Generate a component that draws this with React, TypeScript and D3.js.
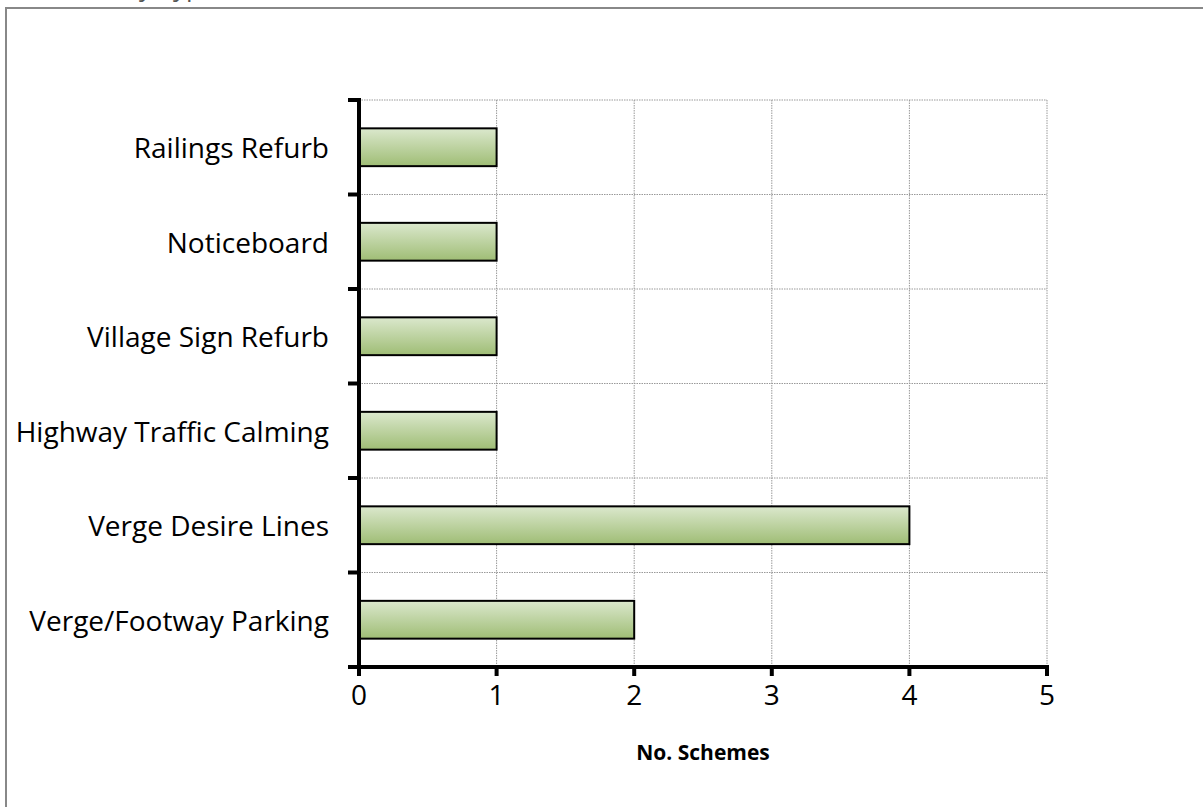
import * as d3 from "d3";

const categories = [
  "Railings Refurb",
  "Noticeboard",
  "Village Sign Refurb",
  "Highway Traffic Calming",
  "Verge Desire Lines",
  "Verge/Footway Parking",
];
const schemeCounts = [1, 1, 1, 1, 4, 2];
const xTicks = [0, 1, 2, 3, 4, 5];
const xTitle = "No. Schemes";

const W = 1203;
const H = 807;
const margin = { left: 359, right: 156, top: 100, bottom: 140 };
const font = "'Open Sans', 'Liberation Sans', sans-serif";

export default function App() {
  const x = d3.scaleLinear().domain([0, 5]).range([margin.left, W - margin.right]);
  const y = d3
    .scaleBand<string>()
    .domain(categories)
    .range([margin.top, H - margin.bottom])
    .paddingInner(0.6)
    .paddingOuter(0.3);
  const bounds = d3
    .range(categories.length + 1)
    .map((i) => margin.top + (i * (H - margin.bottom - margin.top)) / categories.length);
  const y0 = H - margin.bottom;

  return (
    <svg
      width={W}
      height={H}
      style={{ position: "absolute", left: 0, top: 0, background: "#fff" }}
    >
      <defs>
        <linearGradient id="barFill" x1="0" y1="0" x2="0" y2="1">
          <stop offset="0%" stopColor="#dbe8cd" />
          <stop offset="100%" stopColor="#9fbd75" />
        </linearGradient>
      </defs>
      <rect x={0} y={0} width={W} height={H} fill="#fff" />
      {/* chart title, cropped off above the frame */}
      <text x={8} y={-4} fontFamily={font} fontSize={26} fill="#555">
        Schemes by Type
      </text>
      <rect x={6} y={8} width={W + 10} height={H} fill="none" stroke="#888" strokeWidth={2} />

      {/* gridlines */}
      {bounds.slice(0, -1).map((b, i) => (
        <line key={"h" + i} x1={x(0)} x2={x(5)} y1={b} y2={b} stroke="#999" strokeDasharray="1.5,1" />
      ))}
      {xTicks.slice(1).map((t) => (
        <line key={"v" + t} x1={x(t)} x2={x(t)} y1={margin.top} y2={y0} stroke="#999" strokeDasharray="1.5,1" />
      ))}

      {/* bars */}
      {categories.map((c, i) => (
        <rect
          key={c}
          x={x(0)}
          y={y(c)}
          width={x(schemeCounts[i]) - x(0)}
          height={y.bandwidth()}
          fill="url(#barFill)"
          stroke="#000"
          strokeWidth={2}
        />
      ))}

      {/* axes */}
      <line x1={x(0)} x2={x(0)} y1={margin.top - 2} y2={y0 + 2} stroke="#000" strokeWidth={4} />
      {bounds.map((b, i) => (
        <line key={"yt" + i} x1={x(0) - 11} x2={x(0)} y1={b} y2={b} stroke="#000" strokeWidth={4} />
      ))}
      <line x1={x(0) - 2} x2={x(5) + 2} y1={y0} y2={y0} stroke="#000" strokeWidth={4} />
      {xTicks.map((t) => (
        <line key={"xt" + t} x1={x(t)} x2={x(t)} y1={y0} y2={y0 + 9} stroke="#000" strokeWidth={4} />
      ))}

      {categories.map((c) => (
        <text
          key={"l" + c}
          x={329}
          y={y(c)! + y.bandwidth() / 2}
          textAnchor="end"
          dominantBaseline="central"
          fontFamily={font}
          fontSize={28}
          fill="#000"
        >
          {c}
        </text>
      ))}
      {xTicks.map((t) => (
        <text
          key={"xl" + t}
          x={x(t)}
          y={705}
          textAnchor="middle"
          fontFamily={font}
          fontSize={28}
          fill="#000"
        >
          {t}
        </text>
      ))}
      <text
        x={(x(0) + x(5)) / 2}
        y={760}
        textAnchor="middle"
        fontFamily={font}
        fontSize={21}
        fontWeight="bold"
        fill="#000"
      >
        {xTitle}
      </text>
    </svg>
  );
}
